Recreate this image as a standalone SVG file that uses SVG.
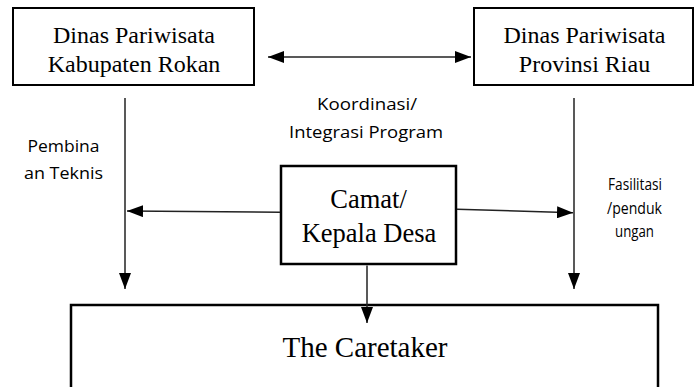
<svg xmlns="http://www.w3.org/2000/svg" width="696" height="387" viewBox="0 0 696 387">
<defs>
<marker id="ah" viewBox="0 0 16 12" refX="16" refY="6" markerWidth="16" markerHeight="12" markerUnits="userSpaceOnUse" orient="auto-start-reverse">
<path d="M0,0 L16,6 L0,12 z" fill="#000"/>
</marker>
<style>
.box{fill:#fff;stroke:#000}
.serif{font-family:"Liberation Serif","Times New Roman",serif;fill:#000;text-anchor:middle}
.lab{font-family:"Open Sans","Liberation Sans",sans-serif;fill:#000;text-anchor:middle}
.ln{fill:none;stroke:#222;stroke-width:1.5}
</style>
</defs>
<rect width="696" height="387" fill="#fff"/>
<g id="dinas-kab">
<rect class="box" x="13" y="8" width="241" height="77" stroke-width="2"/>
<text class="serif" font-size="24" x="134" y="43">Dinas Pariwisata</text>
<text class="serif" font-size="24" x="134" y="72">Kabupaten Rokan</text>
</g>
<g id="dinas-prov">
<rect class="box" x="474" y="8" width="219" height="77" stroke-width="2"/>
<text class="serif" font-size="24" x="584.5" y="43">Dinas Pariwisata</text>
<text class="serif" font-size="24" x="584.5" y="72">Provinsi Riau</text>
</g>
<g id="camat">
<rect class="box" x="281" y="166" width="175" height="98" stroke-width="2.5"/>
<text class="serif" font-size="26.5" x="368.5" y="208">Camat/</text>
<text class="serif" font-size="26.5" x="369" y="241.5">Kepala Desa</text>
</g>
<g id="caretaker">
<rect class="box" x="71" y="305" width="587" height="120" stroke-width="2.5"/>
<text class="serif" font-size="29" x="365" y="357">The Caretaker</text>
</g>
<g id="labels">
<text class="lab" font-size="17" x="367" y="110" textLength="100" lengthAdjust="spacingAndGlyphs">Koordinasi/</text>
<text class="lab" font-size="17" x="366" y="137.5" textLength="154" lengthAdjust="spacingAndGlyphs">Integrasi Program</text>
<text class="lab" font-size="17" x="63.5" y="152" textLength="72" lengthAdjust="spacingAndGlyphs">Pembina</text>
<text class="lab" font-size="17" x="63.5" y="179" textLength="79" lengthAdjust="spacingAndGlyphs">an Teknis</text>
<text class="lab" font-size="15.5" x="635" y="190" textLength="54" lengthAdjust="spacingAndGlyphs">Fasilitasi</text>
<text class="lab" font-size="15.5" x="634.5" y="214" textLength="55" lengthAdjust="spacingAndGlyphs">/penduk</text>
<text class="lab" font-size="15.5" x="634.5" y="237" textLength="39" lengthAdjust="spacingAndGlyphs">ungan</text>
</g>
<g id="connectors">
<line class="ln" x1="268" y1="57" x2="471" y2="57" marker-start="url(#ah)" marker-end="url(#ah)"/>
<line class="ln" x1="125" y1="98" x2="125" y2="289" marker-end="url(#ah)"/>
<line class="ln" x1="574" y1="98" x2="574" y2="289" marker-end="url(#ah)"/>
<line class="ln" x1="280" y1="212.3" x2="127" y2="211" marker-end="url(#ah)"/>
<line class="ln" x1="457" y1="209.3" x2="573" y2="212.7" marker-end="url(#ah)"/>
<line class="ln" x1="367" y1="265.5" x2="367" y2="323" marker-end="url(#ah)"/>
</g>
</svg>
